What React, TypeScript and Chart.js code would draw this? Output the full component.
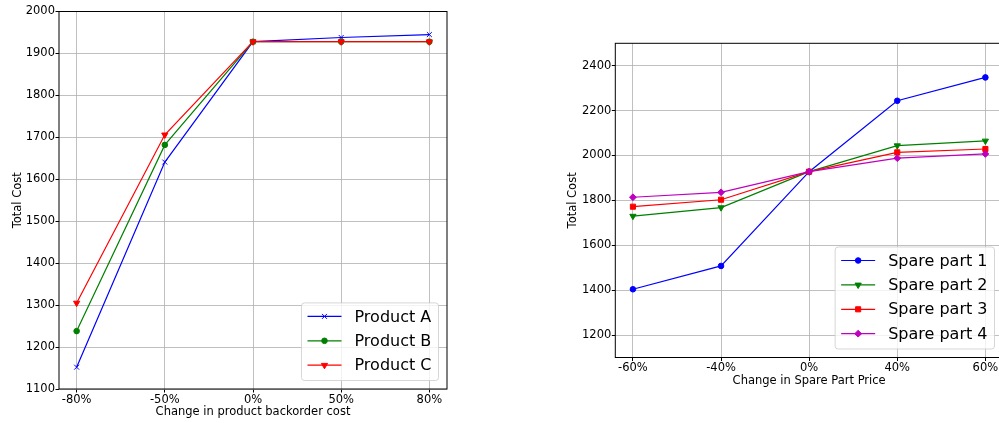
import React, { useEffect, useRef } from "react";
import { Chart, registerables } from "chart.js";
import { drawPoint } from "chart.js/helpers";

Chart.register(...registerables);

// ---------- data ----------
const backorderLabels = ["-80%", "-50%", "0%", "50%", "80%"];
const productA = [1152, 1641, 1928, 1938, 1945];
const productB = [1238, 1682, 1928, 1928, 1928];
const productC = [1305, 1706, 1928, 1928, 1928];
const leftYTicks = [1100, 1200, 1300, 1400, 1500, 1600, 1700, 1800, 1900, 2000];

const priceLabels = ["-60%", "-40%", "0%", "40%", "60%"];
const spare1 = [1404, 1508, 1928, 2244, 2348];
const spare2 = [1730, 1768, 1928, 2044, 2065];
const spare3 = [1772, 1803, 1928, 2014, 2029];
const spare4 = [1814, 1836, 1928, 1988, 2007];
const rightYTicks = [1200, 1400, 1600, 1800, 2000, 2200, 2400];

const FONT = "'DejaVu Sans', sans-serif";

type SeriesDef = {
  label: string;
  values: number[];
  color: string;
  pointStyle: string;
  rotation: number;
  radius: number;
};

const framePlugin = {
  id: "mplFrame",
  afterDatasetsDraw(chart: any) {
    const { ctx, chartArea } = chart;
    ctx.save();
    ctx.strokeStyle = "#000";
    ctx.lineWidth = 1;
    ctx.strokeRect(
      chartArea.left,
      chartArea.top,
      chartArea.right - chartArea.left,
      chartArea.bottom - chartArea.top
    );
    ctx.restore();
  },
};

const legendPlugin = {
  id: "mplLegend",
  afterDraw(chart: any) {
    const { ctx, chartArea } = chart;
    const datasets = chart.data.datasets;
    const n = datasets.length;
    const rowH = 24.4;
    const topPad = 13.5;
    const bottomPad = 15.3;
    ctx.save();
    ctx.font = `16px ${FONT}`;
    let maxW = 0;
    for (const ds of datasets) maxW = Math.max(maxW, ctx.measureText(ds.label).width);
    const w = 6 + 34 + 13 + maxW + 7;
    const h = topPad + (n - 1) * rowH + bottomPad;
    const x = chartArea.right - 8.5 - w;
    const y = chartArea.bottom - 8.5 - h;
    ctx.beginPath();
    const r = 3;
    ctx.moveTo(x + r, y);
    ctx.lineTo(x + w - r, y);
    ctx.arcTo(x + w, y, x + w, y + r, r);
    ctx.lineTo(x + w, y + h - r);
    ctx.arcTo(x + w, y + h, x + w - r, y + h, r);
    ctx.lineTo(x + r, y + h);
    ctx.arcTo(x, y + h, x, y + h - r, r);
    ctx.lineTo(x, y + r);
    ctx.arcTo(x, y, x + r, y, r);
    ctx.closePath();
    ctx.fillStyle = "rgba(255,255,255,0.8)";
    ctx.fill();
    ctx.strokeStyle = "rgba(204,204,204,0.8)";
    ctx.lineWidth = 1;
    ctx.stroke();
    datasets.forEach((ds: any, i: number) => {
      const cy = y + topPad + i * rowH;
      ctx.strokeStyle = ds.borderColor;
      ctx.lineWidth = ds.borderWidth;
      ctx.beginPath();
      ctx.moveTo(x + 6, cy);
      ctx.lineTo(x + 40, cy);
      ctx.stroke();
      ctx.fillStyle = ds.pointBackgroundColor;
      ctx.strokeStyle = ds.pointBorderColor;
      ctx.lineWidth = ds.pointBorderWidth;
      drawPoint(ctx, {
        pointStyle: ds.pointStyle,
        rotation: ds.pointRotation,
        radius: ds.pointRadius,
        borderWidth: ds.pointBorderWidth,
      } as any, x + 23, cy);
      ctx.fillStyle = "#000";
      ctx.textAlign = "left";
      ctx.textBaseline = "middle";
      ctx.fillText(ds.label, x + 53, cy + 1);
    });
    ctx.restore();
  },
};

function makeConfig(opts: {
  labels: string[];
  series: SeriesDef[];
  yTicks: number[];
  yMin: number;
  yMax: number;
  xTitle: string;
  padding: { top: number; right: number; bottom: number; left: number };
  yAxisWidth: number;
  xAxisHeight: number;
  yTitlePad: number;
}): any {
  const n = opts.series.length;
  const tickFont = { family: FONT, size: 11.5, lineHeight: 1.2 };
  return {
    type: "line",
    data: {
      datasets: opts.series.map((s, i) => ({
        label: s.label,
        data: s.values.map((v, j) => ({ x: j, y: v })),
        borderColor: s.color,
        backgroundColor: s.color,
        borderWidth: 1.2,
        pointStyle: s.pointStyle,
        pointRotation: s.rotation,
        pointRadius: s.radius,
        pointBackgroundColor: s.color,
        pointBorderColor: s.color,
        pointBorderWidth: 1,
        fill: false,
        tension: 0,
        order: n - 1 - i,
      })),
    },
    options: {
      responsive: false,
      animation: false,
      events: [],
      layout: { padding: opts.padding },
      plugins: {
        legend: { display: false },
        tooltip: { enabled: false },
      },
      scales: {
        x: {
          type: "linear",
          min: -0.2,
          max: opts.labels.length - 1 + 0.2,
          afterBuildTicks: (scale: any) => {
            scale.ticks = opts.labels.map((_, i) => ({ value: i }));
          },
          afterFit: (scale: any) => {
            scale.height = opts.xAxisHeight;
          },
          ticks: {
            callback: (v: any) => opts.labels[Math.round(v)] ?? "",
            font: tickFont,
            color: "#000",
            padding: 0.5,
            maxRotation: 0,
            autoSkip: false,
          },
          grid: {
            color: "#b0b0b0",
            lineWidth: 0.8,
            drawTicks: true,
            tickLength: 3.5,
            tickColor: "#000",
            tickWidth: 1,
          },
          border: { display: false },
          title: {
            display: true,
            text: opts.xTitle,
            font: { family: FONT, size: 11.5, lineHeight: 1.2 },
            color: "#000",
            padding: { top: 0, bottom: 4 },
          },
        },
        y: {
          type: "linear",
          min: opts.yMin,
          max: opts.yMax,
          afterBuildTicks: (scale: any) => {
            scale.ticks = opts.yTicks.map((v) => ({ value: v }));
          },
          afterFit: (scale: any) => {
            scale.width = opts.yAxisWidth;
          },
          ticks: {
            callback: (v: any) => String(v),
            font: tickFont,
            color: "#000",
            padding: 0.5,
            autoSkip: false,
          },
          grid: {
            color: "#b0b0b0",
            lineWidth: 0.8,
            drawTicks: true,
            tickLength: 3.5,
            tickColor: "#000",
            tickWidth: 1,
          },
          border: { display: false },
          title: {
            display: true,
            text: "Total Cost",
            font: { family: FONT, size: 11.5, lineHeight: 1.2 },
            color: "#000",
            padding: { top: opts.yTitlePad, bottom: 0 },
          },
        },
      },
    },
    plugins: [framePlugin, legendPlugin],
  };
}

export default function App() {
  const leftRef = useRef<HTMLCanvasElement | null>(null);
  const rightRef = useRef<HTMLCanvasElement | null>(null);

  useEffect(() => {
    const left = new Chart(
      leftRef.current as HTMLCanvasElement,
      makeConfig({
        labels: backorderLabels,
        series: [
          { label: "Product A", values: productA, color: "#0000ff", pointStyle: "crossRot", rotation: 0, radius: 3.5 },
          { label: "Product B", values: productB, color: "#008000", pointStyle: "circle", rotation: 0, radius: 2.8 },
          { label: "Product C", values: productC, color: "#ff0000", pointStyle: "triangle", rotation: 180, radius: 3.6 },
        ],
        yTicks: leftYTicks,
        yMin: 1100,
        yMax: 2000,
        xTitle: "Change in product backorder cost",
        padding: { top: 11.5, right: 13, bottom: 0, left: 0 },
        yAxisWidth: 59,
        xAxisHeight: 34,
        yTitlePad: 11.1,
      })
    );
    const right = new Chart(
      rightRef.current as HTMLCanvasElement,
      makeConfig({
        labels: priceLabels,
        series: [
          { label: "Spare part 1", values: spare1, color: "#0000ff", pointStyle: "circle", rotation: 0, radius: 2.8 },
          { label: "Spare part 2", values: spare2, color: "#008000", pointStyle: "triangle", rotation: 180, radius: 3.6 },
          { label: "Spare part 3", values: spare3, color: "#ff0000", pointStyle: "rect", rotation: 0, radius: 3.6 },
          { label: "Spare part 4", values: spare4, color: "#bf00bf", pointStyle: "rectRot", rotation: 0, radius: 3.4 },
        ],
        yTicks: rightYTicks,
        yMin: 1100,
        yMax: 2500,
        xTitle: "Change in Spare Part Price",
        padding: { top: 43.3, right: 7, bottom: 31, left: 0 },
        yAxisWidth: 75.3,
        xAxisHeight: 34.5,
        yTitlePad: 26.4,
      })
    );
    return () => {
      left.destroy();
      right.destroy();
    };
  }, []);

  return (
    <div
      style={{
        position: "fixed",
        left: 0,
        top: 0,
        width: 999,
        height: 423,
        overflow: "hidden",
        background: "#fff",
      }}
    >
      <canvas
        ref={leftRef}
        width={460}
        height={423}
        style={{ position: "absolute", left: 0, top: 0, width: 460, height: 423 }}
      />
      <canvas
        ref={rightRef}
        width={470}
        height={423}
        style={{ position: "absolute", left: 540, top: 0, width: 470, height: 423 }}
      />
    </div>
  );
}
